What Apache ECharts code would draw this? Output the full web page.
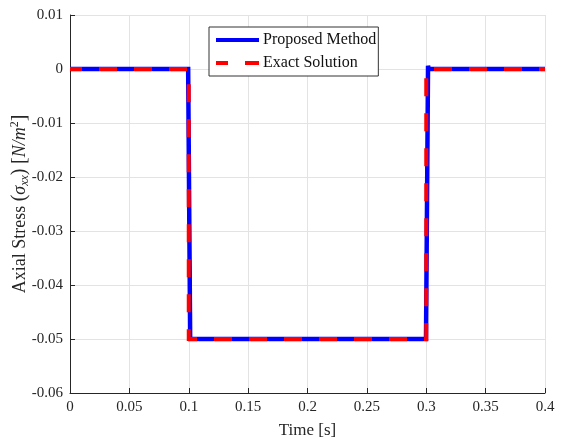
<!DOCTYPE html>
<html>
<head>
<meta charset="utf-8">
<script src="https://cdn.jsdelivr.net/npm/echarts@6/dist/echarts.min.js"></script>
<style>
  html, body { margin: 0; padding: 0; background: #fff; }
  #chart { width: 569px; height: 440px; }
</style>
</head>
<body>
<div id="chart"></div>
<script>
// Numerical solution: step down at t = 0.1 s, step back up at t = 0.3 s (small overshoot)
const timeProposed = [0, 0.0995, 0.1012, 0.2998, 0.3015, 0.302, 0.4];
const stressProposed = [0, 0, -0.05, -0.05, 0.0006, 0, 0];

// Analytical solution
const timeExact = [0, 0.1, 0.1, 0.3, 0.3, 0.4];
const stressExact = [0, 0, -0.05, -0.05, 0, 0];

const xTicks = { min: 0, max: 0.4, interval: 0.05 };
const yTicks = { min: -0.06, max: 0.01, interval: 0.01 };

const seriesNames = ['Proposed Method', 'Exact Solution'];

const pairs = (xs, ys) => xs.map((x, i) => [x, ys[i]]);

const FONT = 'Liberation Serif';
const axisColor = '#262626';

const yTitleRich = {
  n: { fontFamily: FONT, fontSize: 18, fill: '#262626', lineHeight: 22 },
  b: { fontFamily: FONT, fontSize: 20, fill: '#262626', lineHeight: 22 },
  i: { fontFamily: FONT, fontSize: 18, fontStyle: 'italic', fill: '#262626', lineHeight: 22 },
  s: { fontFamily: FONT, fontSize: 12, fontStyle: 'italic', fill: '#262626', lineHeight: 12, verticalAlign: 'bottom' },
  p: { fontFamily: FONT, fontSize: 12, fill: '#262626', lineHeight: 12, verticalAlign: 'top' }
};

const chart = echarts.init(document.getElementById('chart'), null, { renderer: 'canvas' });

chart.setOption({
  animation: false,
  backgroundColor: '#fff',
  grid: { left: 70, right: 24, top: 15, bottom: 47, containLabel: false, outerBoundsMode: 'none' },
  graphic: [
    {
      // vertical axis title with math-style subscript and superscript
      type: 'text',
      x: 20,
      y: 204,
      rotation: Math.PI / 2,
      silent: true,
      style: {
        text: '{n|Axial Stress }{b|(}{i|σ}{s|xx}{b|)}{n| }{b|[}{i|N/m}{p|2}{b|]}',
        rich: yTitleRich,
        align: 'center',
        verticalAlign: 'middle',
        fill: '#262626'
      }
    }
  ],
  legend: {
    left: 209,
    top: 27,
    orient: 'vertical',
    data: seriesNames,
    itemWidth: 43,
    itemHeight: 14,
    itemGap: 7,
    padding: [5, 2, 5, 5],
    borderColor: '#333',
    borderWidth: 1,
    backgroundColor: '#fff',
    itemStyle: { opacity: 0 },
    lineStyle: { width: 4 },
    textStyle: { fontFamily: FONT, fontSize: 16, color: '#111', padding: [0, 0, 0, -1] }
  },
  xAxis: {
    type: 'value',
    min: xTicks.min,
    max: xTicks.max,
    interval: xTicks.interval,
    name: 'Time [s]',
    nameLocation: 'middle',
    nameGap: 29,
    nameTextStyle: { fontFamily: FONT, fontSize: 17, color: '#262626' },
    axisLine: { show: true, onZero: false, lineStyle: { color: axisColor, width: 1 } },
    axisTick: { show: true, inside: true, length: 5, lineStyle: { color: axisColor } },
    axisLabel: { fontFamily: FONT, fontSize: 15, color: '#262626', margin: 7 },
    splitLine: { show: true, lineStyle: { color: '#e3e3e3', width: 1 } }
  },
  yAxis: {
    type: 'value',
    min: yTicks.min,
    max: yTicks.max,
    interval: yTicks.interval,
    axisLine: { show: true, onZero: false, lineStyle: { color: axisColor, width: 1 } },
    axisTick: { show: true, inside: true, length: 5, lineStyle: { color: axisColor } },
    axisLabel: { fontFamily: FONT, fontSize: 15, color: '#262626', margin: 7 },
    splitLine: { show: true, lineStyle: { color: '#e3e3e3', width: 1 } }
  },
  series: [
    {
      name: seriesNames[0],
      type: 'line',
      data: pairs(timeProposed, stressProposed),
      showSymbol: false,
      symbol: 'none',
      color: '#0000ff',
      lineStyle: { color: '#0000ff', width: 4.5, cap: 'butt', join: 'miter' },
      z: 2
    },
    {
      name: seriesNames[1],
      type: 'line',
      data: pairs(timeExact, stressExact),
      showSymbol: false,
      symbol: 'none',
      color: '#ff0000',
      lineStyle: { color: '#ff0000', width: 4, type: [18, 17], dashOffset: 6, cap: 'butt', join: 'miter' },
      z: 3
    }
  ]
});
</script>
</body>
</html>
